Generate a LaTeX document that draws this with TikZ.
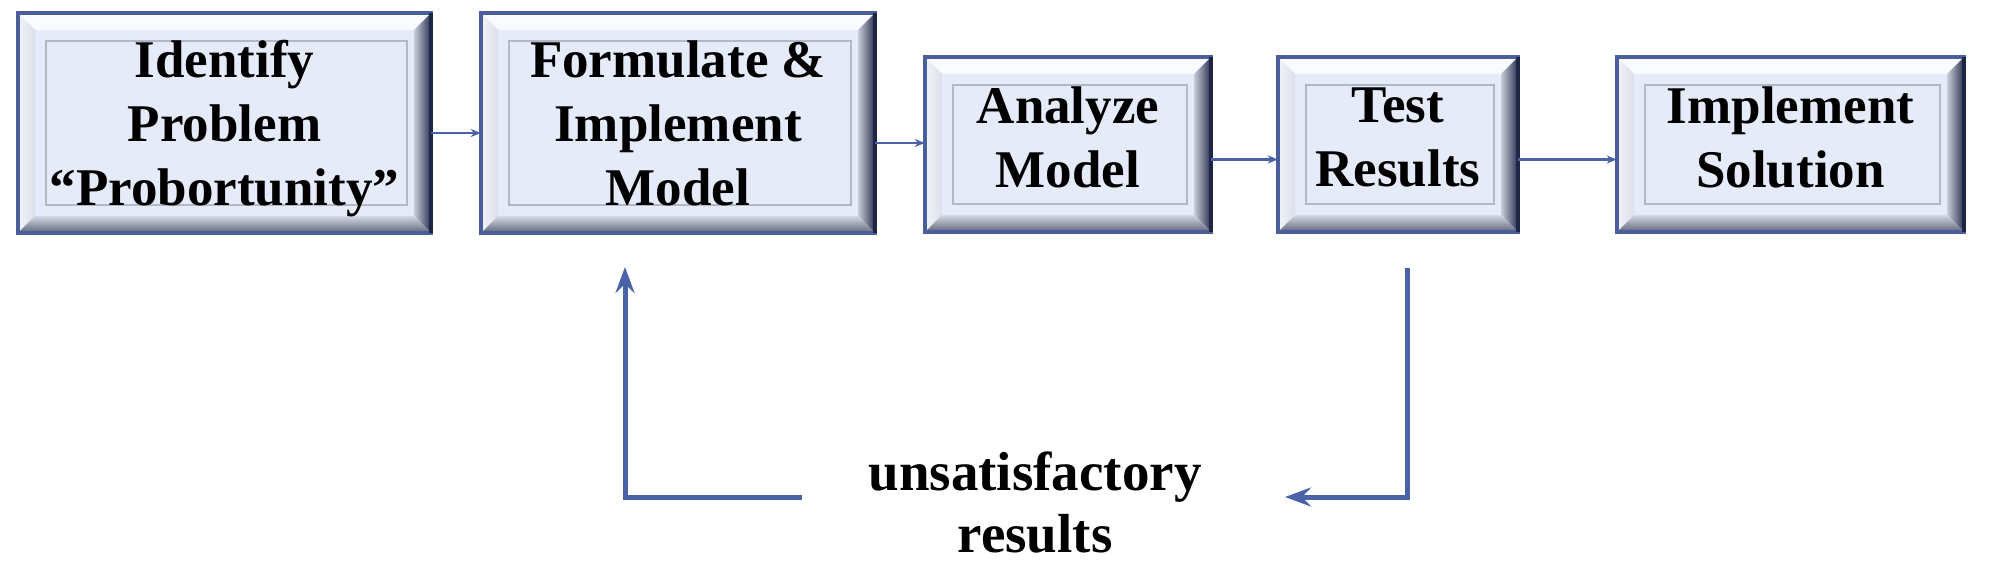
\documentclass[tikz,border=0pt]{standalone}
\usepackage{fontspec}
\setmainfont{Liberation Serif}
\usetikzlibrary{arrows.meta}
\definecolor{face}{HTML}{E6EBFA}
\definecolor{frameblue}{HTML}{4A5E9C}
\definecolor{framedark}{HTML}{1E2646}
\definecolor{innerline}{HTML}{B4B8C6}
\definecolor{bevtop}{HTML}{FAFBFF}
\definecolor{bevleftA}{HTML}{F3F4FA}
\definecolor{bevleftB}{HTML}{DCDFE9}
\definecolor{bevrightA}{HTML}{C9CDD9}
\definecolor{bevrightB}{HTML}{2A3152}
\definecolor{bevbotA}{HTML}{D5D9E4}
\definecolor{bevbotB}{HTML}{5E6478}
\definecolor{conn}{HTML}{4A62A8}
\tikzset{
  boxtext/.style={inner sep=0pt, align=center, font=\fontsize{53}{64}\selectfont\bfseries},
  fbtext/.style={inner sep=0pt, align=center, text depth=0pt, font=\fontsize{55}{62}\selectfont\bfseries},
  thinconn/.style={draw=conn, line width=2.5pt, -{Stealth[length=10pt,width=8pt,inset=3pt]}},
  fbconn/.style={draw=conn, line width=5pt, -{Stealth[length=26pt,width=19pt,inset=9pt]}}
}
% #1 name, #2 x1, #3 y1, #4 x2, #5 y2, #6 text, #7 text depth
\newcommand\bevelbox[7]{%
  \fill[face] (#2,#3) rectangle (#4,#5);
  \fill[bevtop] (#2,#3) -- (#4,#3) -- (#4-17,#3+17) -- (#2+17,#3+17) -- cycle;
  \shade[left color=bevleftA, right color=bevleftB] (#2,#3) -- (#2+17,#3+17) -- (#2+17,#5-17) -- (#2,#5) -- cycle;
  \shade[left color=bevrightA, right color=bevrightB] (#4,#3) -- (#4-17,#3+17) -- (#4-17,#5-17) -- (#4,#5) -- cycle;
  \shade[top color=bevbotA, bottom color=bevbotB] (#2,#5) -- (#2+17,#5-17) -- (#4-17,#5-17) -- (#4,#5) -- cycle;
  \draw[innerline, line width=1.5pt] (#2+28,#3+28) rectangle (#4-24,#5-28);
  \draw[frameblue, line width=4pt] (#2,#3) rectangle (#4,#5);
  \draw[framedark, line width=4pt] (#4,#3) -- (#4,#5);
  \node[boxtext, text depth=#7, minimum width={#4-#2}, minimum height={#5-#3}] (#1) at ({(#2+#4)/2},{(#3+#5)/2}) {#6};
}
\begin{document}
\begin{tikzpicture}[x=1pt,y=-1pt]
\useasboundingbox (0,0) rectangle (2000,561);
\bevelbox{b1}{18}{13}{431}{233}{Identify\\Problem\\“Probortunity”}{0pt}
\bevelbox{b2}{481}{13}{875}{233}{Formulate \&\\Implement\\Model}{0pt}
\bevelbox{b3}{925}{57}{1211}{232}{Analyze\\Model}{14pt}
\bevelbox{b4}{1278}{57}{1518}{232}{Test\\Results}{14pt}
\bevelbox{b5}{1617}{57}{1964}{232}{Implement\\Solution}{14pt}
\coordinate (a1) at ([yshift=-10pt]b1.east);
\coordinate (a2) at ([yshift=-20pt]b2.east);
\coordinate (a3) at ([yshift=-15pt]b3.east);
\coordinate (a4) at ([yshift=-15pt]b4.east);
\draw[thinconn] (a1) -- (a1 -| b2.west);
\draw[thinconn] (a2) -- (a2 -| b3.west);
\draw[thinconn] (a3) -- (a3 -| b4.west);
\draw[thinconn] (a4) -- (a4 -| b5.west);
\node[fbtext] (fb) at (1035,502) {unsatisfactory\\results};
\coordinate (r1) at (1407,268);
\coordinate (r2) at (1407,497);
\coordinate (r3) at (1285,497);
\coordinate (l1) at (802,497);
\coordinate (l2) at (625,497);
\coordinate (l3) at (625,267);
\draw[fbconn] (r1) -- (r2) -- (r3);
\draw[fbconn] (l1) -- (l2) -- (l3);
\end{tikzpicture}
\end{document}
